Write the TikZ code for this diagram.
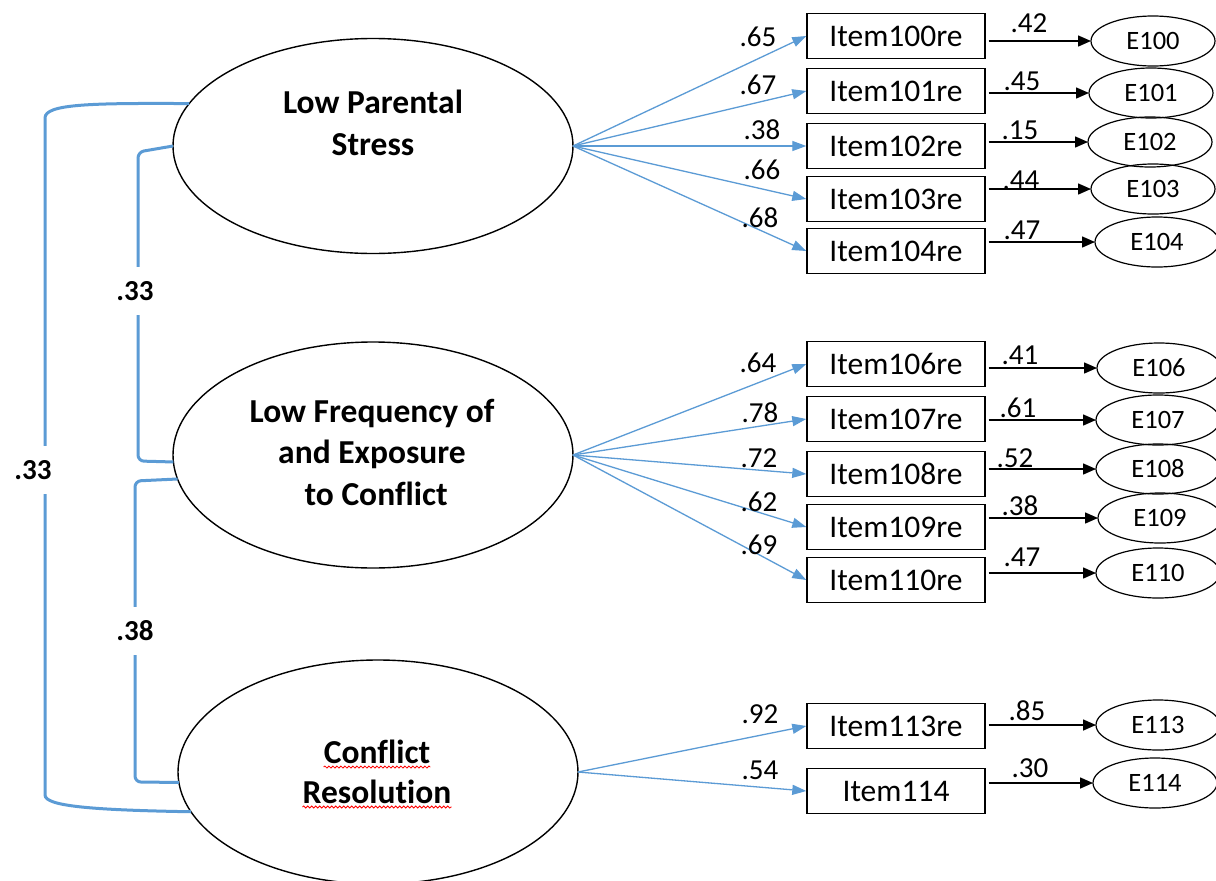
\documentclass[tikz,border=0pt]{standalone}
\usepackage{fontspec}
\setmainfont{Carlito}[Ligatures=NoCommon]
\usetikzlibrary{arrows.meta,shapes.geometric,decorations.pathmorphing}
\definecolor{pathblue}{RGB}{91,155,213}
\begin{document}
\begin{tikzpicture}[x=1pt,y=-1pt,
  latent/.style={ellipse,draw,line width=1.4pt,minimum width=400pt,inner sep=0pt,outer sep=0pt},
  latlab/.style={font=\fontsize{33.5}{41.5}\selectfont\bfseries,align=center,anchor=base,inner sep=0pt},
  item/.style={draw,line width=1.4pt,minimum width=178pt,minimum height=45pt,inner sep=0pt,font=\fontsize{31.5}{34}\selectfont},
  err/.style={ellipse,draw,line width=1.2pt,minimum width=124pt,minimum height=50pt,inner sep=0pt,outer sep=0pt,font=\fontsize{26.5}{28}\selectfont},
  load/.style={draw=pathblue,line width=1.3pt,-{Triangle[length=14pt,width=10pt]}},
  res/.style={draw=black,line width=1.5pt,shorten <=3pt,-{Triangle[length=13pt,width=11pt]}},
  num/.style={font=\fontsize{29}{30}\selectfont,inner sep=0pt},
  corr/.style={draw=pathblue,line width=3pt},
  corrlab/.style={font=\fontsize{29}{30}\selectfont\bfseries,fill=white,inner xsep=3pt,inner ysep=14pt},
  squig/.style={draw=red,line width=0.8pt,decorate,decoration={snake,amplitude=1pt,segment length=4pt}}
]
\fill[white] (0,0) rectangle (1216,881);
\useasboundingbox (0,0) rectangle (1216,881);

% latent factors
\node[latent,minimum height=215pt] (lps) at (373,146) {};
\node[latent,minimum height=226pt] (lfec) at (373,455) {};
\node[latent,minimum height=224pt] (cr) at (378,772) {};
\node[latlab] (lpst) at (373,155) {Low Parental\\Stress};
\node[latlab] (lfect) at (372,505) {Low Frequency of\\and Exposure\\\hspace*{0.25em}to Conflict};
\node[latlab] (crt1) at (377,763) {Conflict};
\node[latlab] (crt2) at (377,803) {Resolution};
\draw[squig] ([yshift=-4pt]crt1.base west) -- ([yshift=-4pt]crt1.base east);
\draw[squig] ([yshift=-4pt]crt2.base west) -- ([yshift=-4pt]crt2.base east);

% indicators
\foreach \n/\y in {100/36,101/91,102/146,103/199,104/251,106/364,107/419,108/474,109/527,110/580,113/726}
  \node[item] (i\n) at (896,\y) {Item\n re};
\node[item] (i114) at (896,791) {Item114};

% residuals
\foreach \n/\x/\y in {100/1153/41,101/1151/93,102/1150/142,103/1153/189,104/1157/242,
                      106/1159/368,107/1158/420,108/1158/469,109/1160/518,110/1158/573,
                      113/1158/725,114/1155/783}
  \node[err] (e\n) at (\x,\y) {E\n};

% loadings
\foreach \n in {100,101,102,103,104} \draw[load] (lps.east) -- (i\n.west);
\foreach \n in {106,107,108,109,110} \draw[load] (lfec.east) -- (i\n.west);
\foreach \n in {113,114} \draw[load] (cr.east) -- (i\n.west);

% residual paths
\foreach \n in {100,101,102,103,104,106,107,108,109,110,113,114}
  \draw[res] (i\n.east |- e\n.center) -- (e\n);

% loading values
\foreach \t/\x/\y [count=\k] in {.65/758/37,.67/758/85,.38/762/130,.66/762/170,.68/760/218,
                                .64/758/363,.78/760/413,.72/759/458,.62/759/502,.69/759/545,
                                .92/760/714,.54/760/770}
  \node[num] (ld\k) at (\x,\y) {\t};

% residual values
\foreach \t/\x/\y [count=\k] in {.42/1029/23,.45/1022/81,.15/1020/130,.44/1021/180,.47/1022/230,
                                .41/1020/355,.61/1018/408,.52/1015/458,.38/1020/506,.47/1022/557,
                                .85/1027/711,.30/1030/768}
  \node[num] (rv\k) at (\x,\y) {\t};

% correlations
\draw[corr] (lps.167) .. controls (90,103) and (45,104) .. (45,118) -- (45,795)
  .. controls (45,806) and (90,810) .. (cr.192);
\draw[corr,rounded corners=6pt] (lps.west) -- (138,152) -- (138,461) -- (lfec.182);
\draw[corr,rounded corners=6pt] (lfec.187) -- (135,481) -- (135,782) -- (cr.183);
\node[corrlab] (c13) at (33,470) {.33};
\node[corrlab] (c12) at (135,291) {.33};
\node[corrlab] (c23) at (135,631) {.38};
\end{tikzpicture}
\end{document}
